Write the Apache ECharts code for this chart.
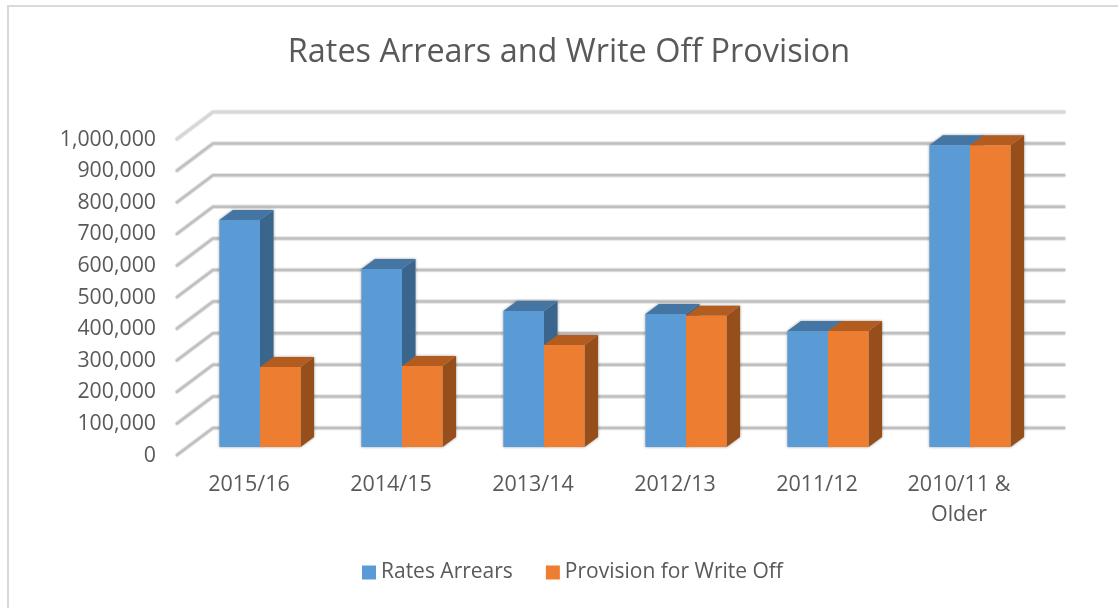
<!DOCTYPE html>
<html>
<head>
<meta charset="utf-8">
<title>Rates Arrears and Write Off Provision</title>
<script src="https://cdn.jsdelivr.net/npm/echarts@6/dist/echarts.min.js"></script>
<style>
html, body { margin: 0; padding: 0; background: #fff; }
#chart { width: 1118px; height: 608px; }
</style>
</head>
<body>
<div id="chart"></div>
<script>
const categories = ['2015/16', '2014/15', '2013/14', '2012/13', '2011/12', '2010/11 &\nOlder'];
const ratesArrears = [718000, 563000, 430000, 421000, 367000, 955000];
const provision = [253000, 256000, 323000, 415000, 367000, 955000];
const tickValues = [0, 100000, 200000, 300000, 400000, 500000, 600000, 700000, 800000, 900000, 1000000];

const font = '"Open Sans", sans-serif';
const textColor = '#595959';
const DX = 13.5, DY = 10;          // bar depth
const BARW = 0.2855;               // bar width, share of a category

// side and top faces are darker versions of the front
function barRenderer(slot, front, top, side) {
    return function (params, api) {
        const band = api.size([1, 0])[0];
        const w = band * BARW;
        const c = api.coord([api.value(0), 0]);
        const t = api.coord([api.value(0), api.value(1)]);
        const x0 = c[0] - w + slot * w, x1 = x0 + w;
        const y0 = c[1], y1 = t[1];
        const outline = [[x0, y0], [x1, y0], [x1 + DX, y0 - DY], [x1 + DX, y1 - DY], [x0 + DX, y1 - DY], [x0, y1]];
        const faceZ = 2 + slot;
        return {
            type: 'group',
            children: [
                // soft halo goes under every face so it never falls on the other bar
                { type: 'polygon', z2: 0, shape: { points: outline }, style: { fill: '#bbb', shadowBlur: 3, shadowColor: 'rgba(0,0,0,0.4)' } },
                { type: 'polygon', z2: faceZ, shape: { points: [[x1, y0], [x1 + DX, y0 - DY], [x1 + DX, y1 - DY], [x1, y1]] }, style: { fill: side } },
                { type: 'polygon', z2: faceZ, shape: { points: [[x0, y1], [x0 + DX, y1 - DY], [x1 + DX, y1 - DY], [x1, y1]] }, style: { fill: top } },
                { type: 'rect', z2: faceZ, shape: { x: x0, y: y1, width: w, height: y0 - y1 }, style: { fill: front } }
            ]
        };
    };
}

// floor-to-wall gridlines: a slanted stretch on the left, then the back wall
function gridRenderer(params, api) {
    const v = api.value(0);
    const y = api.coord([0, v])[1];
    const rect = params.coordSys;
    const left = rect.x, right = rect.x + rect.width;
    const pts = [[left - 12, y + 8], [left + 24, y - 19], [right + 23, y - 19]];
    const isTop = v === tickValues[tickValues.length - 1];
    return {
        type: 'group',
        children: [
            { type: 'polyline', shape: { points: pts }, style: { fill: null, stroke: '#e4e4e4', lineWidth: 4.5, lineCap: 'round', lineJoin: 'round' } },
            { type: 'polyline', shape: { points: pts }, style: { fill: null, stroke: isTop ? '#d6d6d6' : '#bfbfbf', lineWidth: 2.5, lineCap: 'round', lineJoin: 'round' } }
        ]
    };
}

const chart = echarts.init(document.getElementById('chart'), null, { renderer: 'canvas' });

chart.setOption({
    backgroundColor: '#fff',
    animation: false,
    title: {
        text: 'Rates Arrears and Write Off Provision',
        left: 564,
        top: 32,
        textAlign: 'center',
        textStyle: { fontFamily: font, fontSize: 32.4, fontWeight: 'normal', color: textColor }
    },
    legend: {
        left: 357,
        top: 557,
        icon: 'rect',
        itemWidth: 14,
        itemHeight: 14,
        itemGap: 33,
        data: ['Rates Arrears', 'Provision for Write Off'],
        textStyle: { fontFamily: font, fontSize: 21, color: textColor }
    },
    grid: { left: 189, right: 77, top: 131, bottom: 161 },
    xAxis: {
        type: 'category',
        data: categories,
        axisLine: { show: false },
        axisTick: { show: false },
        axisLabel: {
            interval: 0,
            margin: 23,
            padding: [0, 22, 0, 0],
            lineHeight: 30,
            fontFamily: font,
            fontSize: 21.5,
            color: textColor
        }
    },
    yAxis: {
        type: 'value',
        min: 0,
        max: 1000000,
        interval: 100000,
        splitLine: { show: false },
        axisLine: { show: false },
        axisTick: { show: false },
        axisLabel: {
            margin: 33,
            verticalAlign: 'top',
            lineHeight: 17,
            fontFamily: font,
            fontSize: 21.3,
            color: textColor,
            formatter: v => v.toLocaleString('en-US')
        }
    },
    graphic: [{
        // the frame only shows along the top and left, the rest runs off the picture
        type: 'rect',
        silent: true,
        z: -1,
        shape: { x: 8, y: 6, width: 1200, height: 700 },
        style: { fill: null, stroke: '#d9d9d9', lineWidth: 2 }
    }],
    series: [
        {
            type: 'custom',
            name: 'gridlines',
            renderItem: gridRenderer,
            data: tickValues.map(v => [v]),
            encode: { y: 0 },
            silent: true,
            clip: false,
            z: 1
        },
        {
            type: 'custom',
            name: 'Rates Arrears',
            renderItem: barRenderer(0, '#5b9bd5', '#4475a3', '#3a668e'),
            data: categories.map((c, i) => [i, ratesArrears[i]]),
            encode: { x: 0, y: 1 },
            itemStyle: { color: '#5b9bd5' },
            clip: false,
            z: 2
        },
        {
            type: 'custom',
            name: 'Provision for Write Off',
            renderItem: barRenderer(1, '#ed7d31', '#b35c20', '#964f1b'),
            data: categories.map((c, i) => [i, provision[i]]),
            encode: { x: 0, y: 1 },
            itemStyle: { color: '#ed7d31' },
            clip: false,
            z: 2
        }
    ]
});

window.addEventListener('resize', () => chart.resize());
</script>
</body>
</html>
